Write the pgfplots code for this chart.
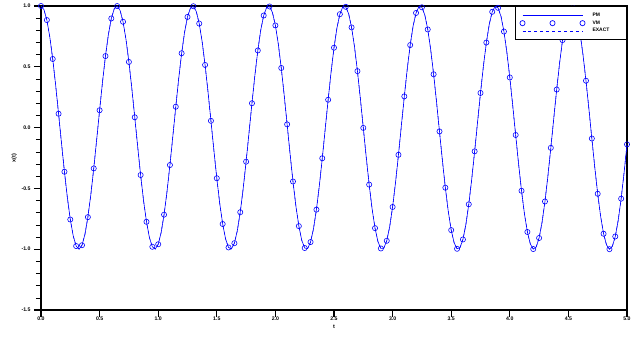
\documentclass[border=0pt]{standalone}
\usepackage{fontspec}
\setmainfont{Liberation Sans}
\usepackage{pgfplots}
\usepackage{pgfplotstable}
\pgfplotsset{compat=1.18}
\definecolor{pblue}{RGB}{0,0,255}
\pgfplotsset{
  pmlegend/.style={legend image code/.code={\draw[draw=pblue, solid, line width=0.7pt] (0bp,0bp) -- (60bp,0bp); \path[draw=none] (0bp,0bp) -- (68bp,0bp);}},
  exlegend/.style={legend image code/.code={\draw[draw=pblue, dashed, line width=0.6pt] (0bp,0bp) -- (60bp,0bp); \path[draw=none] (0bp,0bp) -- (68bp,0bp);}},
  vmlegend/.style={legend image code/.code={
    \draw[draw=pblue, solid, line width=0.7pt] (0bp,0bp) circle[radius=2.6pt];
    \draw[draw=pblue, solid, line width=0.7pt] (30bp,0bp) circle[radius=2.6pt];
    \draw[draw=pblue, solid, line width=0.7pt] (60bp,0bp) circle[radius=2.6pt];
    \path[draw=none] (0bp,0bp) -- (68bp,0bp);}},
}
\pgfplotstableread{
t x
0.000 1.0000
0.025 0.9707
0.050 0.8844
0.075 0.7462
0.100 0.5644
0.125 0.3494
0.150 0.1139
0.175 -0.1283
0.200 -0.3630
0.225 -0.5763
0.250 -0.7559
0.275 -0.8910
0.300 -0.9740
0.325 -0.9999
0.350 -0.9671
0.375 -0.8774
0.400 -0.7362
0.425 -0.5523
0.450 -0.3356
0.475 -0.0993
0.500 0.1428
0.525 0.3765
0.550 0.5883
0.575 0.7651
0.600 0.8976
0.625 0.9773
0.650 0.9996
0.675 0.9633
0.700 0.8704
0.725 0.7266
0.750 0.5401
0.775 0.3219
0.800 0.0849
0.825 -0.1571
0.850 -0.3899
0.875 -0.5998
0.900 -0.7746
0.925 -0.9039
0.950 -0.9802
0.975 -0.9990
1.000 -0.9592
1.025 -0.8632
1.050 -0.7161
1.075 -0.5276
1.100 -0.3080
1.125 -0.0703
1.150 0.1716
1.175 0.4033
1.200 0.6115
1.225 0.7836
1.250 0.9101
1.275 0.9830
1.300 0.9983
1.325 0.9550
1.350 0.8557
1.375 0.7062
1.400 0.5153
1.425 0.2942
1.450 0.0558
1.475 -0.1858
1.500 -0.4166
1.525 -0.6230
1.550 -0.7928
1.575 -0.9161
1.600 -0.9856
1.625 -0.9973
1.650 -0.9506
1.675 -0.8480
1.700 -0.6958
1.725 -0.5028
1.750 -0.2801
1.775 -0.0412
1.800 0.2002
1.825 0.4299
1.850 0.6343
1.875 0.8015
1.900 0.9218
1.925 0.9880
1.950 0.9962
1.975 0.9460
2.000 0.8403
2.025 0.6854
2.050 0.4902
2.075 0.2662
2.100 0.0267
2.125 -0.2144
2.150 -0.4429
2.175 -0.6455
2.200 -0.8101
2.225 -0.9273
2.250 -0.9901
2.275 -0.9948
2.300 -0.9411
2.325 -0.8323
2.350 -0.6744
2.375 -0.4774
2.400 -0.2521
2.425 -0.0120
2.450 0.2287
2.475 0.4561
2.500 0.6569
2.525 0.8187
2.550 0.9326
2.575 0.9920
2.600 0.9932
2.625 0.9361
2.650 0.8241
2.675 0.6639
2.700 0.4645
2.725 0.2380
2.750 -0.0024
2.775 -0.2428
2.800 -0.4688
2.825 -0.6676
2.850 -0.8269
2.875 -0.9379
2.900 -0.9938
2.925 -0.9914
2.950 -0.9309
2.975 -0.8158
3.000 -0.6527
3.025 -0.4515
3.050 -0.2238
3.075 0.0171
3.100 0.2569
3.125 0.4818
3.150 0.6786
3.175 0.8350
3.200 0.9428
3.225 0.9953
3.250 0.9894
3.275 0.9255
3.300 0.8073
3.325 0.6414
3.350 0.4386
3.375 0.2096
3.400 -0.0316
3.425 -0.2709
3.450 -0.4944
3.475 -0.6894
3.500 -0.8430
3.525 -0.9476
3.550 -0.9966
3.575 -0.9872
3.600 -0.9198
3.625 -0.7985
3.650 -0.6306
3.675 -0.4253
3.700 -0.1953
3.725 0.0462
3.750 0.2850
3.775 0.5073
3.800 0.6995
3.825 0.8507
3.850 0.9521
3.875 0.9977
3.900 0.9847
3.925 0.9140
3.950 0.7897
3.975 0.6189
4.000 0.4122
4.025 0.1810
4.050 -0.0607
4.075 -0.2990
4.100 -0.5197
4.125 -0.7099
4.150 -0.8583
4.175 -0.9565
4.200 -0.9986
4.225 -0.9821
4.250 -0.9080
4.275 -0.7806
4.300 -0.6073
4.325 -0.3987
4.350 -0.1666
4.375 0.0753
4.400 0.3129
4.425 0.5320
4.450 0.7197
4.475 0.8657
4.500 0.9606
4.525 0.9993
4.550 0.9793
4.575 0.9018
4.600 0.7716
4.625 0.5960
4.650 0.3854
4.675 0.1523
4.700 -0.0898
4.725 -0.3266
4.750 -0.5445
4.775 -0.7301
4.800 -0.8729
4.825 -0.9646
4.850 -0.9997
4.875 -0.9762
4.900 -0.8954
4.925 -0.7621
4.950 -0.5844
4.975 -0.3719
5.000 -0.1378
}\datatable
\begin{document}
\begin{tikzpicture}
\begin{axis}[
  scale only axis,
  width=586bp, height=304bp,
  xmin=0, xmax=5, ymin=-1.5, ymax=1,
  xtick={0,0.5,1,1.5,2,2.5,3,3.5,4,4.5,5},
  ytick={-1.5,-1,-0.5,0,0.5,1},
  minor y tick num=4,
  tick pos=left,
  tick align=outside,
  major tick length=7bp,
  minor tick length=5bp,
  major tick style={line width=1.1pt, black},
  minor tick style={line width=0.6pt, black},
  axis line style={line width=1.4pt},
  /pgf/number format/assume math mode=true,
  /pgf/number format/.cd, fixed, fixed zerofill, precision=1, /pgfplots/.cd,
  tick label style={font=\fontsize{5.2}{6}\selectfont\bfseries},
  xticklabel style={yshift=3.5bp},
  xlabel={t}, ylabel={x(t)},
  label style={font=\fontsize{5.5}{6}\selectfont\bfseries},
  xlabel style={yshift=3bp},
  ylabel style={yshift=-2bp},
  legend style={at={(1,1)}, anchor=north east, draw=black, line width=1pt,
    font=\fontsize{5}{6}\selectfont\bfseries, inner xsep=4bp, inner ysep=4.5bp,
    row sep=-1.2bp},
  legend cell align=left,
]
\addplot[pblue, line width=0.6pt, pmlegend]
  table[x=t,y=x] {\datatable};
\addlegendentry{\makebox[28bp][l]{PM}}
\addplot[pblue, only marks, mark=o, mark size=2.6pt, mark repeat=2, line width=0.6pt, vmlegend]
  table[x=t,y=x] {\datatable};
\addlegendentry{\makebox[28bp][l]{VM}}
\addplot[pblue, dashed, line width=0.5pt, exlegend]
  table[x=t,y=x] {\datatable};
\addlegendentry{\makebox[28bp][l]{EXACT}}
\end{axis}
\path (current axis.south west) ++(-41bp,-27bp) coordinate (bbA);
\path (current axis.north east) ++(13bp,6bp) coordinate (bbB);
\pgfresetboundingbox
\path (bbA) rectangle (bbB);
\end{tikzpicture}
\end{document}
